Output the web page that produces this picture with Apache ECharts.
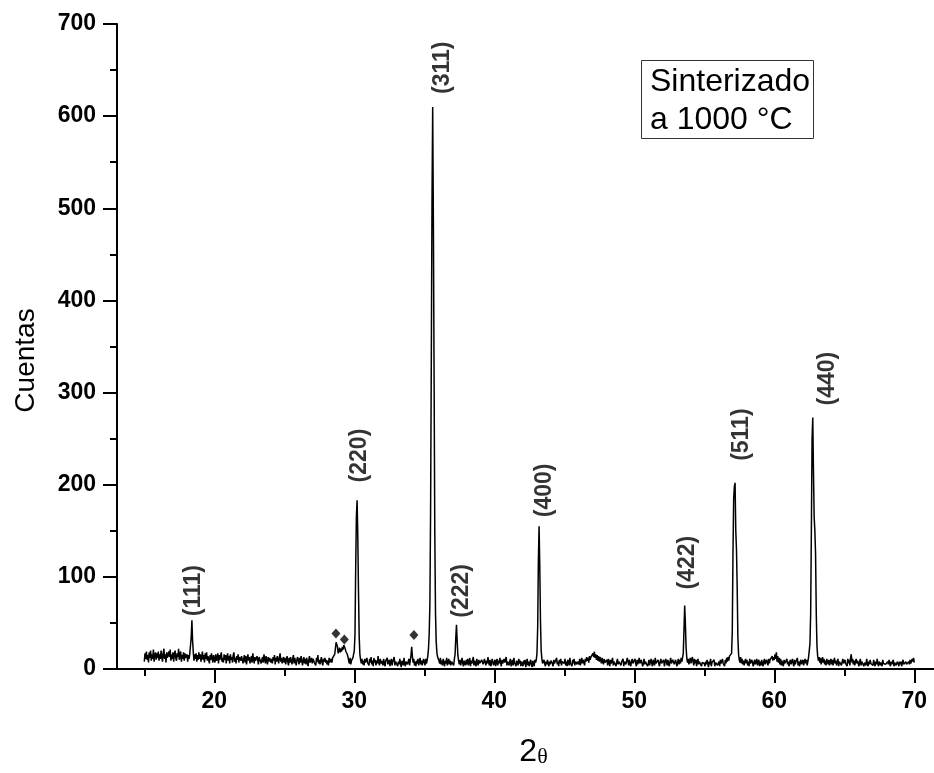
<!DOCTYPE html>
<html>
<head>
<meta charset="utf-8">
<title>DRX - Sinterizado a 1000 °C</title>
<script src="https://cdn.jsdelivr.net/npm/echarts@6/dist/echarts.min.js"></script>
<style>
  html, body { margin: 0; padding: 0; background: #fff; }
  #chart { width: 934px; height: 773px; }
</style>
</head>
<body>
<div id="chart"></div>
<script>
// Scan parameters (2θ, degrees)
const scanStart = 15.0;
const scanStep = 0.05;

// Counts per step, one line per degree (15°, 16°, ... 69°) plus the final 70° point
const counts = [
  8,17,11,19,10,15,7,18,12,20,9,16,11,21,8,15,18,10,17,12,
  19,9,16,11,20,13,8,17,22,11,16,7,18,12,10,19,13,21,9,16,
  11,18,8,16,20,12,9,17,13,22,10,16,19,8,15,11,18,9,17,12,
  10,16,8,15,11,17,19,34,53,31,18,9,16,11,17,8,15,10,18,11,
  16,8,13,19,10,15,7,17,11,18,9,14,16,6,15,10,17,11,7,15,
  14,7,16,9,12,17,6,15,10,14,18,8,12,7,16,10,15,6,12,17,
  9,14,6,16,10,13,7,15,18,8,12,6,14,10,16,7,13,15,9,14,
  13,6,11,15,7,14,5,11,16,9,13,6,10,14,7,17,11,6,13,9,
  8,14,10,5,13,11,15,6,10,13,7,16,11,6,14,9,5,13,8,12,
  14,7,11,6,13,9,15,5,12,8,14,10,6,13,17,8,12,6,10,13,
  7,12,5,10,14,8,4,12,7,13,9,5,11,15,6,12,8,4,10,13,
  9,5,12,7,14,10,4,9,13,6,11,5,12,8,3,10,14,7,9,12,
  6,11,13,7,9,4,12,8,15,6,10,5,9,13,7,4,11,8,12,7,
  10,5,9,4,12,7,5,11,7,12,10,12,16,22,29,31,24,17,20,23,
  18,22,19,24,21,26,27,22,19,21,16,13,9,6,12,5,9,7,12,14,
  20,38,110,165,183,145,85,35,16,10,6,11,5,9,4,11,7,5,12,7,
  9,4,11,7,13,5,9,3,12,7,10,4,9,6,14,7,4,11,6,9,
  8,4,11,6,3,9,7,12,5,6,10,3,8,11,4,8,6,13,4,8,
  6,10,3,8,5,11,6,2,9,8,4,12,6,3,8,10,5,6,11,4,
  9,15,24,14,7,11,4,8,3,9,6,11,4,8,12,5,9,4,8,11,
  7,4,11,6,9,14,22,38,70,170,330,505,610,485,320,150,62,30,18,13,
  15,9,6,12,5,9,4,11,7,3,9,6,12,4,8,11,5,9,4,8,
  6,10,4,11,16,34,48,30,15,9,5,10,4,8,12,6,3,9,7,4,
  10,5,11,4,8,12,3,9,6,8,13,4,9,6,3,11,7,4,10,6,
  8,4,10,12,5,3,11,7,4,9,6,13,7,4,10,3,6,11,8,4,
  6,10,3,8,11,4,9,6,12,7,3,10,6,4,11,7,5,13,4,8,
  10,4,8,11,3,6,10,4,12,7,6,3,9,7,4,11,6,9,3,8,
  6,3,9,5,10,2,7,11,4,8,3,7,10,5,2,9,6,3,10,7,
  10,17,45,118,155,112,52,20,11,6,4,10,6,3,8,5,10,6,3,8,
  5,9,11,6,3,10,6,4,8,12,5,8,3,10,6,11,4,8,6,10,
  6,11,4,8,3,10,7,4,12,6,8,3,10,6,11,4,8,10,5,8,
  9,5,11,4,8,12,6,10,7,4,11,8,13,9,12,7,14,10,13,15,
  11,17,13,19,12,16,10,15,9,14,8,13,10,6,12,8,5,11,7,9,
  6,10,4,11,8,3,10,6,8,12,4,8,6,10,3,8,11,5,8,6,
  10,4,8,6,11,3,8,10,5,6,12,8,4,10,6,3,8,11,6,4,
  8,11,6,3,10,5,8,12,6,4,10,8,3,6,11,5,8,6,10,3,
  6,10,4,8,11,6,3,10,8,4,12,6,8,5,10,6,3,8,11,6,
  5,8,10,3,7,11,8,4,10,6,3,8,12,6,4,10,8,5,6,10,
  6,3,8,11,5,10,6,12,8,10,17,42,69,50,24,12,7,11,5,9,
  12,6,10,13,8,4,11,6,10,3,8,11,5,8,6,10,3,7,9,5,
  6,3,8,5,10,6,2,8,5,11,3,7,9,5,10,3,7,5,9,4,
  5,8,3,10,6,4,11,6,8,3,10,6,12,8,13,9,14,16,14,17,
  40,125,185,198,202,150,130,90,35,16,10,7,13,6,11,5,9,4,8,11,
  6,10,4,8,3,11,6,4,10,8,3,7,10,5,8,11,4,7,10,3,
  8,4,10,6,3,8,11,5,7,10,8,4,11,6,10,8,12,14,9,13,
  10,16,11,18,8,14,7,12,5,11,4,9,8,3,10,6,4,8,11,5,
  8,3,7,10,5,8,11,6,3,10,5,8,6,12,4,8,3,7,10,5,
  6,10,4,8,11,6,10,4,8,13,20,28,60,150,250,273,215,165,150,125,
  60,25,14,9,13,7,12,5,9,13,7,11,5,9,4,11,8,5,10,4,
  8,11,5,10,4,8,12,6,9,4,8,11,3,8,6,10,4,8,11,6,
  5,10,6,8,3,11,6,10,4,12,16,7,11,5,9,4,8,11,6,9,
  6,3,8,11,4,8,6,10,3,7,9,4,11,6,3,8,5,10,6,4,
  8,4,10,6,3,8,5,11,6,3,8,10,4,7,3,10,6,4,8,5,
  7,3,8,5,10,6,3,8,5,7,10,3,7,9,4,2,8,6,3,8,
  5,8,3,7,10,5,7,3,8,5,7,3,8,5,10,6,4,11,8,12,
  7
];

// Indexed reflections of the spinel phase
const peakHkl = ['(111)', '(220)', '(311)', '(222)', '(400)', '(422)', '(511)', '(440)'];
const peakTheta = [18.40, 30.20, 35.60, 37.30, 43.20, 53.60, 57.20, 62.75];

// Secondary-phase reflections (◆)
const impurityTheta = [28.69, 29.29, 34.26];
const impurityCounts = [38.6, 32, 36.8];

// Axis ticks
const majorTicksX = [20, 30, 40, 50, 60, 70];
const minorTicksX = [15, 25, 35, 45, 55, 65];

// ---------------------------------------------------------------------------

const FONT = "'Liberation Sans', Arial, Helvetica, sans-serif";
const INK = '#000';

const twoTheta = counts.map((_, i) => +(scanStart + i * scanStep).toFixed(2));
const pattern = counts.map((c, i) => [twoTheta[i], c]);
const countAt = (t) => counts[Math.round((t - scanStart) / scanStep)];

// Label placement for each reflection: [shift right px, gap above peak px]
const hklLabelLayout = [[2, 4], [3, 18], [9.5, 13], [5, 7], [5.5, 9], [3.3, 16], [6.3, 22], [15, 12]];

const peakItems = peakHkl.map((hkl, i) => ({
  name: hkl,
  value: [peakTheta[i], countAt(peakTheta[i])],
  label: { offset: [hklLabelLayout[i][1], hklLabelLayout[i][0]] }
}));

const X_MIN = 13.05, X_MAX = 71.41;

const chart = echarts.init(document.getElementById('chart'), null, { renderer: 'canvas' });

chart.setOption({
  animation: false,
  backgroundColor: '#fff',
  title: {
    text: 'Sinterizado\na 1000 °C',
    left: 641,
    top: 60,
    padding: [3, 4, 0, 9],
    borderWidth: 1,
    borderColor: '#333',
    textStyle: {
      fontFamily: FONT,
      fontSize: 32,
      fontWeight: 'normal',
      color: INK,
      lineHeight: 38
    }
  },
  grid: { left: 117, right: 0, top: 24, bottom: 97 },
  xAxis: [
    {
      type: 'value',
      min: X_MIN,
      max: X_MAX,
      position: 'bottom',
      axisLine: { show: true, onZero: false, lineStyle: { color: INK, width: 2 } },
      axisTick: { show: true, customValues: majorTicksX, length: 14, lineStyle: { color: INK, width: 2 } },
      axisLabel: {
        customValues: majorTicksX,
        margin: 21,
        fontFamily: FONT,
        fontSize: 23,
        fontWeight: 'bold',
        color: INK
      },
      splitLine: { show: false },
      name: '{n|2}{t|θ}',
      nameLocation: 'middle',
      nameGap: 67,
      nameTextStyle: {
        padding: [0, 0, 0, 16],
        rich: {
          n: { fontFamily: FONT, fontSize: 32, color: INK },
          t: { fontFamily: "'Liberation Serif', 'DejaVu Serif', serif", fontSize: 22, color: INK, verticalAlign: 'bottom' }
        }
      }
    },
    {
      type: 'value',
      min: X_MIN,
      max: X_MAX,
      position: 'bottom',
      axisLine: { show: false },
      axisTick: { show: true, customValues: minorTicksX, length: 7, lineStyle: { color: INK, width: 2 } },
      axisLabel: { show: false },
      splitLine: { show: false }
    }
  ],
  yAxis: {
    type: 'value',
    min: 0,
    max: 700,
    interval: 100,
    axisLine: { show: true, lineStyle: { color: INK, width: 2 } },
    axisTick: { show: true, length: 14, lineStyle: { color: INK, width: 2 } },
    minorTick: { show: true, splitNumber: 2, length: 7, lineStyle: { color: INK, width: 2 } },
    axisLabel: {
      margin: 21,
      fontFamily: FONT,
      fontSize: 23,
      fontWeight: 'bold',
      color: INK
    },
    splitLine: { show: false },
    minorSplitLine: { show: false },
    name: 'Cuentas',
    nameLocation: 'middle',
    nameGap: 77,
    nameTextStyle: {
      fontFamily: FONT,
      fontSize: 28,
      color: INK,
      padding: [0, 28, 0, 0]
    }
  },
  series: [
    {
      name: 'DRX',
      type: 'line',
      data: pattern,
      showSymbol: false,
      symbol: 'none',
      sampling: null,
      lineStyle: { color: INK, width: 1.5 },
      z: 2
    },
    {
      name: 'Fase secundaria',
      type: 'scatter',
      data: impurityTheta.map((t, i) => [t, impurityCounts[i]]),
      symbol: 'diamond',
      symbolSize: [9, 10],
      itemStyle: { color: INK },
      z: 3
    },
    {
      name: 'hkl',
      type: 'scatter',
      data: peakItems,
      symbolSize: 0,
      silent: true,
      label: {
        show: true,
        formatter: (p) => p.name,
        position: 'top',
        distance: 0,
        rotate: 90,
        align: 'left',
        verticalAlign: 'middle',
        fontFamily: FONT,
        fontSize: 23,
        fontWeight: 'bold',
        color: INK
      },
      z: 4
    }
  ]
});
</script>
</body>
</html>
